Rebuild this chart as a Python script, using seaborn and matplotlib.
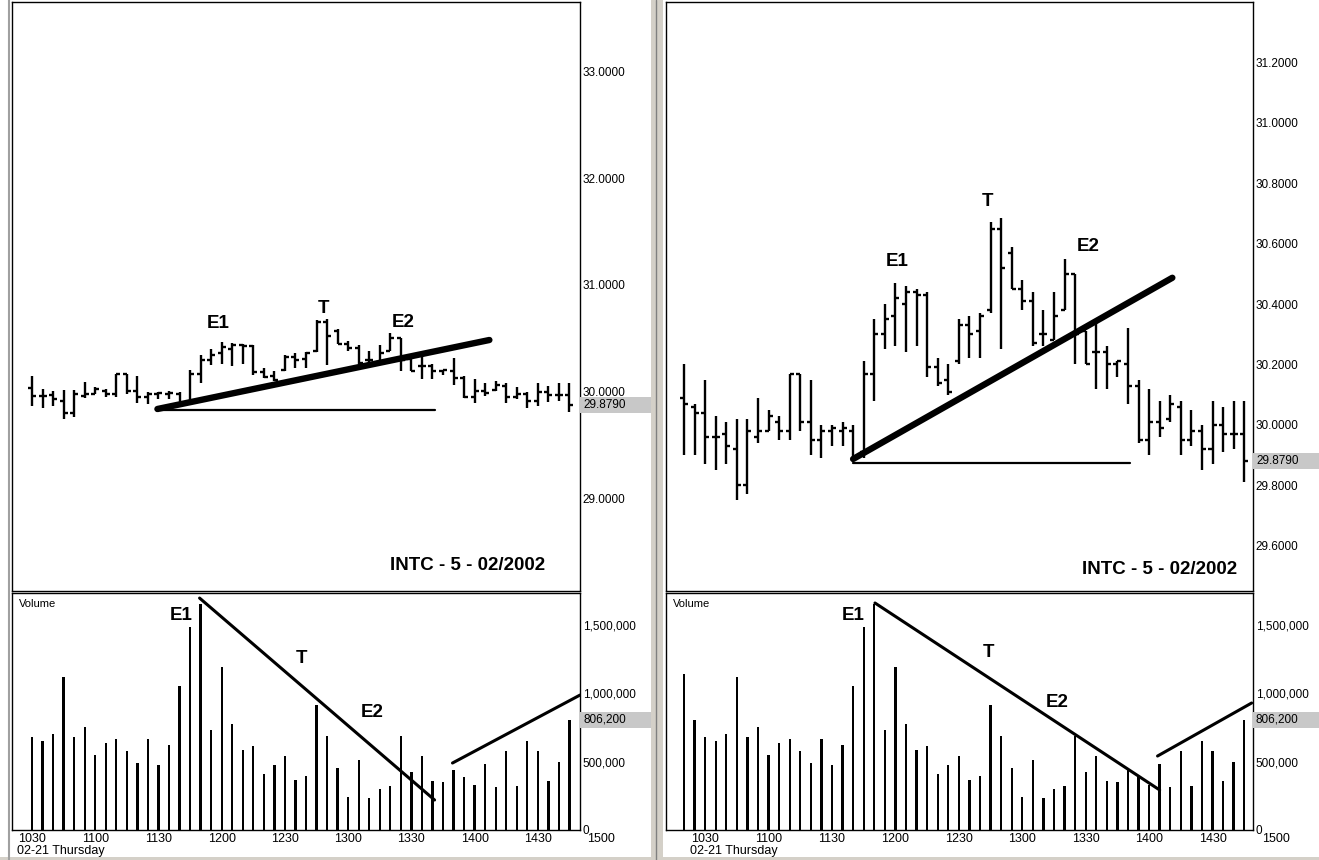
import numpy as np
import pandas as pd
import matplotlib
matplotlib.use("Agg")
import matplotlib.pyplot as plt
import matplotlib.transforms as mtransforms
from matplotlib.patches import Rectangle
from matplotlib.lines import Line2D
import seaborn as sns

# ------------------ Data: INTC 5-minute bars, 02-21 ------------------
bar_times = ["1020", "1025", "1030", "1035", "1040", "1045", "1050", "1055",
             "1100", "1105", "1110", "1115", "1120", "1125", "1130", "1135",
             "1140", "1145", "1150", "1155", "1200", "1205", "1210", "1215",
             "1220", "1225", "1230", "1235", "1240", "1245", "1250", "1255",
             "1300", "1305", "1310", "1315", "1320", "1325", "1330", "1335",
             "1340", "1345", "1350", "1355", "1400", "1405", "1410", "1415",
             "1420", "1425", "1430", "1435", "1440", "1445"]

opens = [30.09, 30.06, 30.04, 29.96, 29.97, 29.92, 29.80, 29.96, 29.98, 30.01,
         29.98, 30.17, 30.01, 29.95, 29.98, 29.98, 29.98, 29.91, 30.17, 30.30,
         30.36, 30.40, 30.44, 30.43, 30.19, 30.15, 30.21, 30.33, 30.31, 30.38,
         30.65, 30.57, 30.45, 30.41, 30.30, 30.28, 30.38, 30.50, 30.31, 30.24,
         30.24, 30.20, 30.20, 30.13, 29.95, 30.01, 30.02, 30.06, 29.95, 29.98,
         29.92, 30.00, 29.97, 29.97]
highs = [30.20, 30.07, 30.15, 30.03, 30.01, 30.02, 30.02, 30.09, 30.05, 30.03,
         30.17, 30.17, 30.15, 30.00, 30.00, 30.01, 30.00, 30.21, 30.35, 30.40,
         30.47, 30.46, 30.45, 30.44, 30.22, 30.20, 30.35, 30.36, 30.37, 30.67,
         30.685, 30.59, 30.48, 30.44, 30.38, 30.44, 30.55, 30.50, 30.31, 30.34,
         30.26, 30.21, 30.32, 30.15, 30.12, 30.08, 30.10, 30.08, 30.05, 30.00,
         30.08, 30.06, 30.08, 30.08]
lows = [29.90, 29.90, 29.87, 29.85, 29.87, 29.75, 29.77, 29.94, 29.98, 29.95,
        29.95, 29.98, 29.90, 29.89, 29.93, 29.93, 29.88, 29.89, 30.08, 30.25,
        30.26, 30.24, 30.26, 30.16, 30.13, 30.10, 30.20, 30.22, 30.22, 30.37,
        30.25, 30.45, 30.38, 30.26, 30.26, 30.28, 30.38, 30.20, 30.20, 30.12,
        30.12, 30.16, 30.07, 29.94, 29.90, 29.96, 30.01, 29.90, 29.93, 29.85,
        29.87, 29.91, 29.92, 29.81]
closes = [30.07, 30.04, 29.96, 29.96, 29.93, 29.80, 29.98, 29.98, 30.03, 29.98,
          30.17, 30.01, 29.95, 29.98, 29.99, 29.99, 29.89, 30.17, 30.30, 30.35,
          30.42, 30.44, 30.43, 30.19, 30.14, 30.11, 30.33, 30.30, 30.36, 30.65,
          30.52, 30.45, 30.41, 30.27, 30.30, 30.36, 30.50, 30.30, 30.20, 30.24,
          30.20, 30.21, 30.13, 29.95, 30.01, 29.99, 30.07, 29.95, 29.98, 29.92,
          30.00, 29.97, 29.97, 29.879]
volumes = [1136000, 805000, 681000, 652000, 701000, 1114000, 681000, 749000,
           550000, 633000, 662000, 577000, 491000, 662000, 472000, 623000,
           1051000, 1484000, 1650000, 727000, 1192000, 776000, 586000, 616000,
           406000, 472000, 538000, 367000, 397000, 915000, 689000, 455000,
           243000, 508000, 236000, 302000, 321000, 689000, 426000, 540000,
           360000, 348000, 438000, 389000, 328000, 482000, 311000, 577000,
           321000, 652000, 577000, 358000, 499000, 806200]

tick_times = ["1030", "1100", "1130", "1200", "1230", "1300", "1330", "1400", "1430", "1500"]
price_ticks_left = [29.0, 30.0, 31.0, 32.0, 33.0]
price_ticks_right = [29.6, 29.8, 30.0, 30.2, 30.4, 30.6, 30.8, 31.0, 31.2]
volume_ticks = [0, 500000, 1000000, 1500000]
last_price = 29.879
last_volume = 806200

# hand-drawn trendlines (bar position, value)
left_trend = ([13.9, 45.4], [29.841, 30.486])
left_base = ([13.9, 40.2], [29.832, 29.832])
right_trend = ([16.0, 46.2], [29.887, 30.487])
right_base = ([16.0, 42.2], [29.874, 29.874])
left_vol_down = ([17.9, 40.2], [1693000, 219000])
left_vol_up = ([41.9, 54.0], [489000, 985000])
right_vol_down = ([18.07, 45.0], [1657000, 292000])
right_vol_up = ([44.8, 53.7], [540000, 927000])

# ------------------ Helpers ------------------
W, H = 1319, 860


def minutes(hhmm):
    return int(hhmm[:2]) * 60 + int(hhmm[2:])


def to_pos(hhmm):
    return (minutes(hhmm) - minutes(bar_times[0])) / 5


pos = np.array([to_pos(t) for t in bar_times])
opens, highs, lows, closes = map(np.array, (opens, highs, lows, closes))
df = pd.DataFrame({"pos": pos, "volume": volumes})


def px_axes(fig, x0, y0, x1, y1):
    return fig.add_axes([x0 / W, 1 - y1 / H, (x1 - x0) / W, (y1 - y0) / H])


def style_axes(ax):
    for s in ax.spines.values():
        s.set_color("black")
        s.set_linewidth(1.0)
        s.set_visible(True)
    ax.yaxis.tick_right()
    ax.tick_params(axis="y", length=0, pad=2, labelsize=8.5, colors="black")
    ax.set_xticks([])
    ax.set_xlabel("")
    ax.set_ylabel("")
    ax.grid(False)


def value_tag(ax, value, text, width_px):
    trans = mtransforms.blended_transform_factory(ax.transAxes, ax.transData)
    bb = ax.get_position()
    y0, y1 = ax.get_ylim()
    h = 16 * (y1 - y0) / (bb.height * H)
    ax.add_patch(Rectangle((1.0, value - h / 2), width_px / (bb.width * W), h,
                           transform=trans, facecolor="#c8c8c8", edgecolor="none",
                           clip_on=False, zorder=3))
    ax.text(1.0 + 3 / (bb.width * W), value, text, transform=trans, fontsize=8.5,
            va="center", ha="left", zorder=4, clip_on=False)


def draw_price(ax, sel):
    x = pos[sel]
    ax.vlines(x, lows[sel], highs[sel], color="black", lw=1.7)
    ax.hlines(opens[sel], x - 0.38, x, color="black", lw=1.7)
    ax.hlines(closes[sel], x, x + 0.38, color="black", lw=1.7)


def trend(ax, line, lw):
    sns.lineplot(x=line[0], y=line[1], ax=ax, color="black", lw=lw,
                 sort=False, solid_capstyle="round")


def panel(fig, x0, x1, xlim, first, ylim, yticks, trend_line, base_line,
          vol_down, vol_up, price_labels, vol_labels, intc_xy):
    axp = px_axes(fig, x0, 2, x1, 591)
    axv = px_axes(fig, x0, 593, x1, 830)
    sel = pos >= first

    draw_price(axp, sel)
    trend(axp, trend_line, 4.6)
    trend(axp, base_line, 1.6)
    axp.set_xlim(*xlim)
    axp.set_ylim(*ylim)
    axp.set_yticks(yticks)
    axp.set_yticklabels([f"{v:.4f}" for v in yticks])
    style_axes(axp)
    for txt, (lx, ly) in price_labels:
        axp.text(lx, ly, txt, fontsize=13.5, fontweight="bold", ha="center", va="center")
    axp.text(intc_xy[0], intc_xy[1], "INTC - 5 - 02/2002", transform=axp.transAxes,
             fontsize=13.5, fontweight="bold", ha="right", va="center")
    value_tag(axp, last_price, f"{last_price:.4f}", 75)

    sns.barplot(data=df[df["pos"] >= first], x="pos", y="volume", native_scale=True,
                width=0.22, color="black", errorbar=None, linewidth=0, ax=axv)
    trend(axv, vol_down, 2.2)
    trend(axv, vol_up, 2.2)
    axv.set_xlim(*xlim)
    axv.set_ylim(0, 1730000)
    axv.set_yticks(volume_ticks)
    axv.set_yticklabels([f"{v:,}" for v in volume_ticks])
    style_axes(axv)
    for txt, (lx, ly) in vol_labels:
        axv.text(lx, ly, txt, fontsize=13.5, fontweight="bold", ha="center", va="center")
    axv.text(0.012, 0.975, "Volume", transform=axv.transAxes, fontsize=8,
             ha="left", va="top")
    value_tag(axv, last_volume, f"{last_volume:,}", 75)

    tx = mtransforms.blended_transform_factory(axv.transData, axv.transAxes)
    for t in tick_times:
        axv.text(to_pos(t), -0.036, t, transform=tx, fontsize=9, ha="center",
                 va="center", clip_on=False)
    axv.text(to_pos(tick_times[0]) - 1.4, -0.088, "02-21 Thursday", transform=tx,
             fontsize=9, ha="left", va="center", clip_on=False)
    return axp, axv


# ------------------ Figure ------------------
sns.set_theme(style="white")
plt.rcParams["font.family"] = ["Liberation Sans", "DejaVu Sans"]
plt.rcParams["text.color"] = "black"

fig = plt.figure(figsize=(W / 100, H / 100), dpi=100)
fig.patch.set_facecolor("white")

panel(fig, 12, 580, (0.1, 54.0), 2, (28.140, 33.645), price_ticks_left,
      left_trend, left_base, left_vol_down, left_vol_up,
      [("E1", (19.65, 30.636)), ("T", (29.7, 30.776)), ("E2", (37.2, 30.654))],
      [("E1", (16.2, 1569000)), ("T", (27.6, 1255000)), ("E2", (34.3, 861000))],
      (0.938, 0.044))

panel(fig, 666, 1253, (-1.7, 53.83), 0, (29.450, 31.40), price_ticks_right,
      right_trend, right_base, right_vol_down, right_vol_up,
      [("E1", (20.15, 30.54)), ("T", (28.7, 30.74)), ("E2", (38.2, 30.59))],
      [("E1", (16.0, 1569000)), ("T", (28.8, 1299000)), ("E2", (35.3, 934000))],
      (0.973, 0.036))

# window frame decorations
fig.add_artist(Rectangle((651 / W, 0), 12 / W, 1, transform=fig.transFigure,
                         facecolor="#d4d0c8", edgecolor="none"))
fig.add_artist(Line2D([656 / W, 656 / W], [0, 1], transform=fig.transFigure,
                      color="#808080", lw=1))
fig.add_artist(Line2D([9 / W, 9 / W], [0, 1], transform=fig.transFigure,
                      color="#a0a0a0", lw=1.5))
fig.add_artist(Rectangle((0, 0), 1, 3 / H, transform=fig.transFigure,
                         facecolor="#d4d0c8", edgecolor="none"))

fig.savefig("out.png", dpi=100)
